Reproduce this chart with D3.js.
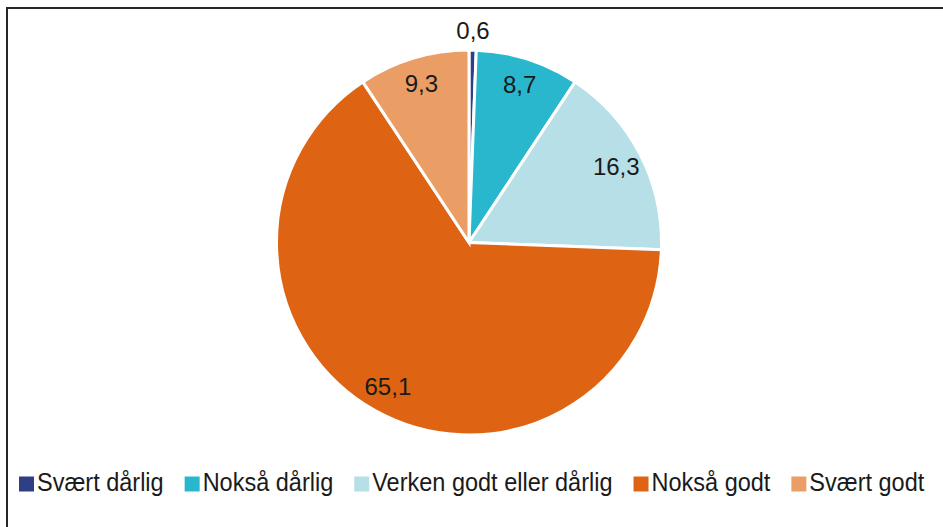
<!DOCTYPE html>
<html><head><meta charset="utf-8">
<script src="https://cdn.jsdelivr.net/npm/d3@7"></script>
<style>html,body{margin:0;padding:0;background:#fff;overflow:hidden}</style>
</head><body>
<svg id="c" width="943" height="527"></svg>
<script>
const categories = ["Svært dårlig", "Nokså dårlig", "Verken godt eller dårlig", "Nokså godt", "Svært godt"];
const values = [0.6, 8.7, 16.3, 65.1, 9.3];
const colors = ["#2E3F86", "#29B7CE", "#B6DFE8", "#DE6414", "#EA9E65"];

const svg = d3.select("#c");
const W = 943, H = 527;
const FONT = "Liberation Sans, Arial, sans-serif";
svg.append("rect").attr("x", 0).attr("y", 0).attr("width", W).attr("height", H).attr("fill", "#fff");
// frame
svg.append("rect").attr("x", 7).attr("y", 8).attr("width", W + 20).attr("height", H + 20)
  .attr("fill", "none").attr("stroke", "#262626").attr("stroke-width", 2);

const cx = 469, cy = 242.5, R = 192.5;
const data = categories.map((c, i) => ({ cat: c, v: values[i], col: colors[i] }));
const pie = d3.pie().value(d => d.v).sort(null);
const arcs = pie(data);
const arc = d3.arc().innerRadius(0).outerRadius(R);
const g = svg.append("g").attr("transform", `translate(${cx},${cy})`);
g.selectAll("path").data(arcs).join("path")
  .attr("d", arc).attr("fill", d => d.data.col)
  .attr("stroke", "#fff").attr("stroke-width", 3).attr("stroke-linejoin", "miter");

const fmt = v => String(v).replace(".", ",");
const lblIn = d3.arc().innerRadius(0.86 * R).outerRadius(0.86 * R);
const lblOut = d3.arc().innerRadius(R + 20).outerRadius(R + 20);
g.selectAll("text.lbl").data(arcs).join("text").attr("class", "lbl")
  .attr("transform", d => {
    const small = d.data.v < 2;
    const p = (small ? lblOut : lblIn).centroid(d);
    return `translate(${p[0]},${p[1] + 8.5})`;
  })
  .attr("text-anchor", "middle")
  .attr("font-family", FONT).attr("font-size", 24)
  .attr("fill", "#1a1a1a")
  .text(d => fmt(d.data.v));

// legend
const legend = svg.append("g").attr("transform", "translate(19,484)");
let x = 0;
const gap = 21;
data.forEach((d, i) => {
  const it = legend.append("g").attr("transform", `translate(${x},0)`);
  it.append("rect").attr("x", 0).attr("y", -7.5).attr("width", 15).attr("height", 15).attr("fill", d.col);
  const t = it.append("text").attr("transform", "translate(18,7) scale(1,1.07)")
    .attr("font-family", FONT).attr("font-size", 23.5)
    .attr("fill", "#1a1a1a").text(d.cat);
  x += 18 + t.node().getComputedTextLength() + gap;
});
</script>
</body></html>
